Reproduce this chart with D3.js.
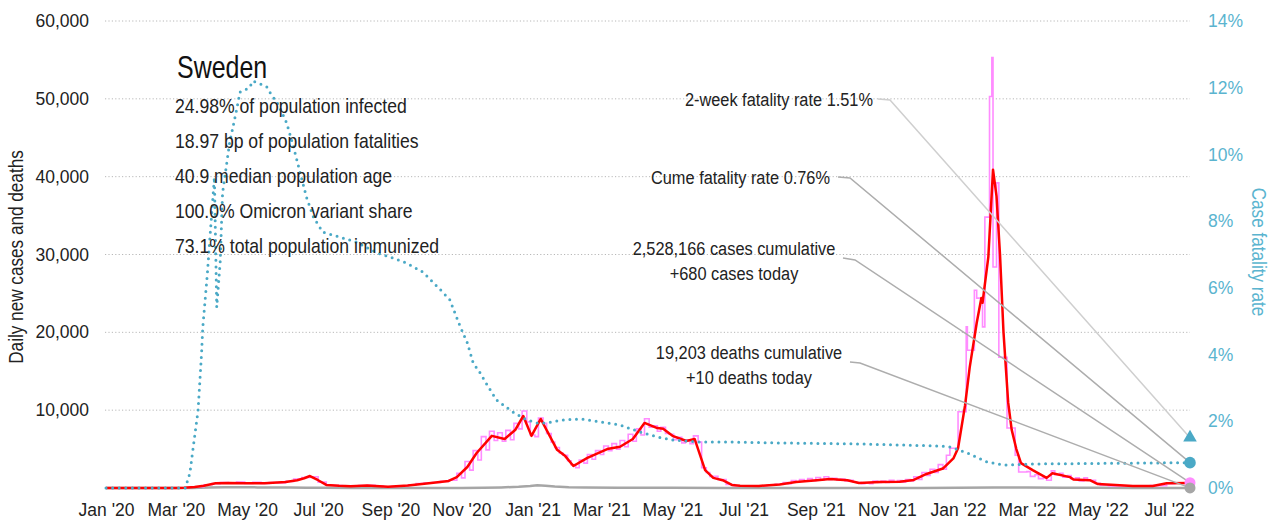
<!DOCTYPE html>
<html>
<head>
<meta charset="utf-8">
<script src="https://cdn.jsdelivr.net/npm/d3@7/dist/d3.min.js"></script>
<style>
  body { margin: 0; background: #fff; }
  svg { display: block; }
  text { font-family: "Liberation Sans", Arial, sans-serif; }
</style>
</head>
<body>
<svg id="chart" width="1278" height="527"></svg>
<script>
// ---- Data: Sweden, Jan 2020 – Jul 2022 ----
const startDate = "2020-01-01";
const endDate = "2022-07-19";

const caseTicks = [10000, 20000, 30000, 40000, 50000, 60000];
const cfrTicks = [0, 2, 4, 6, 8, 10, 12, 14];

// 7-day average of new cases
const avgCases = [
  ["2020-01-01", 0], ["2020-03-01", 5], ["2020-03-08", 40], ["2020-03-17", 120],
  ["2020-03-25", 300], ["2020-04-04", 600], ["2020-04-15", 650], ["2020-04-29", 620],
  ["2020-05-16", 600], ["2020-06-03", 780], ["2020-06-13", 1000], ["2020-06-19", 1250],
  ["2020-06-24", 1540], ["2020-07-01", 1000], ["2020-07-08", 400], ["2020-07-19", 280],
  ["2020-07-29", 220], ["2020-08-12", 330], ["2020-08-30", 160], ["2020-09-16", 330],
  ["2020-10-04", 620], ["2020-10-21", 900], ["2020-10-28", 1400], ["2020-11-06", 2700],
  ["2020-11-14", 4500], ["2020-11-27", 6700], ["2020-12-08", 6300], ["2020-12-17", 7450],
  ["2020-12-24", 9250], ["2020-12-31", 6700], ["2021-01-08", 8870], ["2021-01-22", 4900],
  ["2021-01-29", 4100], ["2021-02-05", 2830], ["2021-02-17", 3860], ["2021-03-06", 5000],
  ["2021-03-17", 5300], ["2021-03-28", 6300], ["2021-04-07", 8360], ["2021-04-18", 7700],
  ["2021-04-23", 7600], ["2021-05-01", 6700], ["2021-05-13", 6040], ["2021-05-20", 6300],
  ["2021-05-29", 2300], ["2021-06-05", 1300], ["2021-06-13", 1000], ["2021-06-21", 400],
  ["2021-06-28", 300], ["2021-07-14", 260], ["2021-08-01", 450], ["2021-08-15", 770],
  ["2021-09-02", 1000], ["2021-09-13", 1150], ["2021-09-28", 1000], ["2021-10-08", 640],
  ["2021-10-26", 770], ["2021-11-12", 800], ["2021-11-24", 1030], ["2021-12-05", 1800],
  ["2021-12-19", 2500], ["2021-12-28", 3800], ["2022-01-01", 5100], ["2022-01-07", 10600],
  ["2022-01-11", 15500], ["2022-01-17", 21200], ["2022-01-21", 24400], ["2022-01-22", 23800],
  ["2022-01-27", 29700], ["2022-01-31", 40900], ["2022-02-03", 37500], ["2022-02-06", 30000],
  ["2022-02-09", 20000], ["2022-02-13", 11000], ["2022-02-16", 7500], ["2022-02-20", 5000],
  ["2022-02-24", 3200], ["2022-03-06", 2300], ["2022-03-18", 1300],
  ["2022-03-23", 1900], ["2022-04-07", 1400], ["2022-04-10", 1100], ["2022-04-24", 1000],
  ["2022-05-01", 500], ["2022-05-31", 250], ["2022-06-17", 250], ["2022-06-29", 600],
  ["2022-07-19", 650]
];

// reported daily new cases
const dailyCases = [
  ["2020-01-01", 0], ["2020-03-04", 20], ["2020-03-11", 90], ["2020-03-18", 160],
  ["2020-03-25", 420], ["2020-04-01", 560], ["2020-04-08", 700], ["2020-04-15", 620],
  ["2020-04-22", 760], ["2020-04-29", 600], ["2020-05-06", 720], ["2020-05-13", 580],
  ["2020-05-20", 700], ["2020-05-27", 660], ["2020-06-03", 850], ["2020-06-10", 1150],
  ["2020-06-17", 1350], ["2020-06-24", 1450], ["2020-07-01", 750], ["2020-07-08", 350],
  ["2020-07-15", 300], ["2020-07-22", 250], ["2020-07-29", 230], ["2020-08-05", 300],
  ["2020-08-12", 340], ["2020-08-19", 250], ["2020-08-26", 170], ["2020-09-02", 200],
  ["2020-09-09", 260], ["2020-09-16", 380], ["2020-09-23", 560], ["2020-09-30", 680],
  ["2020-10-07", 700], ["2020-10-14", 850], ["2020-10-21", 1000],
  ["2020-10-28", 1900], ["2020-11-01", 1300], ["2020-11-04", 3400], ["2020-11-08", 2300],
  ["2020-11-11", 4800], ["2020-11-15", 3600], ["2020-11-18", 6600], ["2020-11-22", 4900],
  ["2020-11-25", 7300], ["2020-11-29", 6100], ["2020-12-02", 7100], ["2020-12-06", 6000],
  ["2020-12-09", 7400], ["2020-12-13", 6200], ["2020-12-16", 8300], ["2020-12-20", 7600],
  ["2020-12-23", 9900], ["2020-12-27", 8500], ["2020-12-30", 6800], ["2021-01-03", 6600],
  ["2021-01-06", 9000], ["2021-01-10", 8300], ["2021-01-13", 7000], ["2021-01-17", 5900],
  ["2021-01-20", 5200], ["2021-01-24", 4500], ["2021-01-27", 4200], ["2021-01-31", 3500],
  ["2021-02-03", 3000], ["2021-02-07", 2600], ["2021-02-10", 3600], ["2021-02-14", 3200],
  ["2021-02-17", 4300], ["2021-02-21", 3700], ["2021-02-24", 4800], ["2021-02-28", 4300],
  ["2021-03-03", 5400], ["2021-03-07", 4800], ["2021-03-10", 5700], ["2021-03-14", 5000],
  ["2021-03-17", 6100], ["2021-03-21", 5300], ["2021-03-24", 6900], ["2021-03-28", 6000],
  ["2021-03-31", 7600], ["2021-04-04", 6800], ["2021-04-07", 8900], ["2021-04-11", 7800],
  ["2021-04-14", 8000], ["2021-04-18", 7300], ["2021-04-21", 7800], ["2021-04-25", 7000],
  ["2021-04-28", 6900], ["2021-05-02", 6200], ["2021-05-05", 6500], ["2021-05-09", 5800],
  ["2021-05-12", 6200], ["2021-05-16", 5700], ["2021-05-19", 6700], ["2021-05-23", 5900],
  ["2021-05-26", 2600], ["2021-05-30", 2000], ["2021-06-02", 1500], ["2021-06-09", 1100],
  ["2021-06-16", 450], ["2021-06-23", 280], ["2021-06-30", 240], ["2021-07-07", 230],
  ["2021-07-14", 280], ["2021-07-21", 350], ["2021-07-28", 480],
  ["2021-08-04", 700], ["2021-08-08", 550], ["2021-08-11", 950], ["2021-08-15", 750],
  ["2021-08-18", 1100], ["2021-08-22", 900], ["2021-08-25", 1200], ["2021-08-29", 950],
  ["2021-09-01", 1350], ["2021-09-05", 1000], ["2021-09-08", 1450], ["2021-09-12", 1100],
  ["2021-09-15", 1250], ["2021-09-19", 1000], ["2021-09-22", 1150], ["2021-09-26", 900],
  ["2021-09-29", 1000], ["2021-10-03", 750], ["2021-10-06", 700], ["2021-10-10", 560],
  ["2021-10-13", 650], ["2021-10-17", 550], ["2021-10-20", 900], ["2021-10-24", 700],
  ["2021-10-27", 900], ["2021-10-31", 720], ["2021-11-03", 1000], ["2021-11-07", 750],
  ["2021-11-10", 950], ["2021-11-14", 750], ["2021-11-17", 1100], ["2021-11-21", 900],
  ["2021-11-24", 1450], ["2021-11-28", 1100], ["2021-12-01", 2000], ["2021-12-05", 1600],
  ["2021-12-08", 2400], ["2021-12-12", 2000], ["2021-12-15", 3000], ["2021-12-19", 2400],
  ["2021-12-22", 4200], ["2021-12-25", 5100], ["2022-01-01", 9800], ["2022-01-08", 20700],
  ["2022-01-09", 17700], ["2022-01-15", 25400], ["2022-01-17", 24400], ["2022-01-22", 20700],
  ["2022-01-24", 34800], ["2022-01-28", 50300], ["2022-01-30", 55300], ["2022-01-31", 28400],
  ["2022-02-03", 39200], ["2022-02-05", 16800], ["2022-02-12", 7700], ["2022-02-19", 4200],
  ["2022-02-22", 2050], ["2022-03-01", 2100], ["2022-03-04", 1500], ["2022-03-08", 1700],
  ["2022-03-11", 1200], ["2022-03-15", 1300], ["2022-03-18", 1000], ["2022-03-22", 2200],
  ["2022-03-25", 1700], ["2022-03-29", 1900], ["2022-04-01", 1400], ["2022-04-05", 1600],
  ["2022-04-08", 1200], ["2022-04-12", 1300], ["2022-04-15", 900], ["2022-04-19", 1300],
  ["2022-04-22", 1000], ["2022-04-26", 1000], ["2022-04-29", 600], ["2022-05-03", 350],
  ["2022-05-10", 250], ["2022-06-01", 240], ["2022-06-15", 300], ["2022-06-29", 550],
  ["2022-07-06", 650], ["2022-07-13", 680], ["2022-07-19", 680]
];

// daily new deaths
const dailyDeaths = [
  ["2020-01-01", 0], ["2020-03-15", 10], ["2020-03-29", 60], ["2020-04-12", 100],
  ["2020-04-26", 90], ["2020-05-10", 80], ["2020-05-24", 60], ["2020-06-07", 50],
  ["2020-06-21", 40], ["2020-07-05", 20], ["2020-08-01", 5], ["2020-10-01", 3],
  ["2020-11-01", 10], ["2020-11-20", 40], ["2020-12-05", 80], ["2020-12-20", 150],
  ["2020-12-30", 250], ["2021-01-05", 350], ["2021-01-12", 300], ["2021-01-20", 200],
  ["2021-02-01", 100], ["2021-02-15", 60], ["2021-03-15", 30], ["2021-05-01", 25],
  ["2021-06-15", 10], ["2021-08-01", 3], ["2021-10-01", 5], ["2021-12-01", 10],
  ["2022-01-01", 20], ["2022-02-01", 50], ["2022-02-15", 70], ["2022-03-01", 60],
  ["2022-04-01", 40], ["2022-05-01", 20], ["2022-06-01", 10], ["2022-07-19", 10]
];

// cumulative case fatality rate, percent
const caseFatality = [
  ["2020-01-01", 0], ["2020-03-09", 0], ["2020-03-13", 0.45], ["2020-03-15", 1.0],
  ["2020-03-20", 2.33], ["2020-03-23", 4.05], ["2020-03-24", 4.8], ["2020-03-28", 6.44],
  ["2020-03-30", 7.43], ["2020-04-02", 8.84], ["2020-04-03", 9.32], ["2020-04-05", 5.42],
  ["2020-04-08", 6.8], ["2020-04-10", 8.84], ["2020-04-16", 10.34], ["2020-04-22", 11.33],
  ["2020-04-25", 11.87], ["2020-04-30", 11.95], ["2020-05-03", 11.99], ["2020-05-06", 12.2],
  ["2020-05-10", 12.14], ["2020-05-15", 12.08], ["2020-05-18", 12.02], ["2020-05-21", 11.84],
  ["2020-05-27", 11.54], ["2020-05-30", 11.33], ["2020-06-04", 10.94], ["2020-06-09", 10.34],
  ["2020-06-15", 9.53], ["2020-06-21", 8.72], ["2020-06-27", 8.12], ["2020-07-05", 7.67],
  ["2020-07-17", 7.55], ["2020-08-03", 7.37], ["2020-08-21", 7.04], ["2020-09-01", 6.92],
  ["2020-09-15", 6.74], ["2020-09-29", 6.47], ["2020-10-14", 5.94], ["2020-10-22", 5.64],
  ["2020-10-31", 4.83], ["2020-11-06", 4.35], ["2020-11-11", 3.75], ["2020-11-17", 3.45],
  ["2020-11-23", 3.09], ["2020-12-01", 2.64], ["2020-12-15", 2.28], ["2020-12-27", 2.04],
  ["2021-01-05", 1.95], ["2021-01-13", 1.95], ["2021-01-27", 2.04], ["2021-02-11", 2.07],
  ["2021-02-25", 2.0], ["2021-03-17", 1.89], ["2021-04-03", 1.68], ["2021-04-18", 1.53],
  ["2021-05-01", 1.44], ["2021-05-22", 1.38], ["2021-06-19", 1.38], ["2021-08-01", 1.35],
  ["2021-10-09", 1.32], ["2021-12-16", 1.26], ["2021-12-25", 1.23], ["2022-01-09", 1.05],
  ["2022-01-26", 0.78], ["2022-02-09", 0.69], ["2022-03-04", 0.72], ["2022-07-19", 0.76]
];

const country = "Sweden";
const factLines = [
  "24.98% of population infected",
  "18.97 bp of population fatalities",
  "40.9 median population age",
  "100.0% Omicron variant share",
  "73.1% total population immunized"
];

const latestCfr2wk = 1.51;
const latestCfr = 0.76;
const latestCases = 680;
const latestDeaths = 10;
const cumCases = 2528166;
const cumDeaths = 19203;

// ---- Scales ----
const parse = d3.timeParse("%Y-%m-%d");
const svg = d3.select("#chart");

const x = d3.scaleTime().domain([parse(startDate), parse(endDate)]).range([106, 1190]);
const y = d3.scaleLinear().domain([0, 60000]).range([488, 21]);
const yR = d3.scaleLinear().domain([0, 14]).range([488, 21]);

const teal = "#4aa9c6";
const tealText = "#5ab4cf";
const pink = "#ff8cff";
const NARROW = 0.88;   // horizontal squeeze for the condensed text look

// places a text with a condensed horizontal scale
function narrowText(parent, px, py, str, size, opts = {}) {
  const rot = opts.rotate ? ` rotate(${opts.rotate})` : "";
  return parent.append("text")
    .attr("transform", `translate(${px},${py})${rot} scale(${opts.sx || NARROW},1)`)
    .attr("text-anchor", opts.anchor || "start")
    .attr("font-size", size)
    .attr("fill", opts.fill || "#222")
    .text(str);
}

// ---- Grid ----
svg.append("g")
  .selectAll("line")
  .data(caseTicks)
  .join("line")
  .attr("x1", 105).attr("x2", x.range()[1])
  .attr("y1", d => y(d)).attr("y2", d => y(d))
  .attr("stroke", "#b8b8b8").attr("stroke-width", 1)
  .attr("stroke-dasharray", "1.2,2.2");

// ---- Axes ----
const leftAxis = svg.append("g")
  .attr("transform", "translate(96,0)")
  .call(d3.axisLeft(y).tickValues(caseTicks).tickFormat(d3.format(",")).tickSize(0).tickPadding(7));
leftAxis.select(".domain").remove();
leftAxis.selectAll("text").attr("font-size", 17.5).attr("fill", "#222");

const rightAxis = svg.append("g")
  .attr("transform", "translate(1200,0)")
  .call(d3.axisRight(yR).tickValues(cfrTicks).tickFormat(d => d + "%").tickSize(0).tickPadding(8));
rightAxis.select(".domain").remove();
rightAxis.selectAll("text").attr("font-size", 17.5).attr("fill", tealText);

const monthTicks = d3.timeMonth.every(2).range(parse("2020-01-01"), parse("2022-07-02"));
const bottomAxis = svg.append("g")
  .attr("transform", "translate(0,490)")
  .call(d3.axisBottom(x).tickValues(monthTicks).tickFormat(d3.timeFormat("%b '%y")).tickSize(0).tickPadding(14));
bottomAxis.select(".domain").remove();
bottomAxis.selectAll("text").attr("font-size", 17.5).attr("fill", "#222");

narrowText(svg, 23, 257, "Daily new cases and deaths", 19.5, { rotate: -90, anchor: "middle" });
narrowText(svg, 1252, 252, "Case fatality rate", 19.5, { rotate: 90, anchor: "middle", fill: tealText });

// ---- Series ----
const pts = arr => arr.map(([d, v]) => [parse(d), v]);

const lineCases = d3.line().x(d => x(d[0])).y(d => y(d[1]));
const lineStep = d3.line().x(d => x(d[0])).y(d => y(d[1])).curve(d3.curveStepAfter);
const lineCfr = d3.line().x(d => x(d[0])).y(d => yR(d[1]));

svg.append("path")
  .attr("d", lineCases(pts(dailyDeaths)))
  .attr("fill", "none").attr("stroke", "#a6a6a6").attr("stroke-width", 2.5);

svg.append("path")
  .attr("d", lineStep(pts(dailyCases)))
  .attr("fill", "none").attr("stroke", pink).attr("stroke-width", 1.6);

svg.append("path")
  .attr("d", lineCases(pts(avgCases)))
  .attr("fill", "none").attr("stroke", "#ff0000").attr("stroke-width", 2.5)
  .attr("stroke-linejoin", "round");

svg.append("path")
  .attr("d", lineCfr(pts(caseFatality)))
  .attr("fill", "none").attr("stroke", teal).attr("stroke-width", 3)
  .attr("stroke-linecap", "round").attr("stroke-dasharray", "0,6.6");

// ---- Country facts ----
narrowText(svg, 177, 78, country, 32, { sx: 0.78, fill: "#111" });
factLines.forEach((t, i) => narrowText(svg, 175, 113 + i * 35, t, 20));

// ---- Latest-value callouts ----
const xEnd = x(parse(endDate));
const fmt = d3.format(",");
const callouts = [
  { lines: [`2-week fatality rate ${latestCfr2wk}%`], anchor: "end", tx: 873, ty: 106,
    from: [878, 99], bend: [890, 100], to: yR(latestCfr2wk), color: "#cfcfcf" },
  { lines: [`Cume fatality rate ${latestCfr}%`], anchor: "end", tx: 830, ty: 184,
    from: [838, 177], bend: [850, 178], to: yR(latestCfr), color: "#adadad" },
  { lines: [`${fmt(cumCases)} cases cumulative`, `+${fmt(latestCases)} cases today`], anchor: "middle", tx: 734, ty: 255,
    from: [843, 258], bend: [855, 260], to: y(latestCases), color: "#adadad" },
  { lines: [`${fmt(cumDeaths)} deaths cumulative`, `+${fmt(latestDeaths)} deaths today`], anchor: "middle", tx: 749, ty: 359,
    from: [850, 362], bend: [860, 363], to: y(latestDeaths), color: "#adadad" }
];

callouts.forEach(c => {
  svg.append("path")
    .attr("d", d3.line()([c.from, c.bend, [xEnd, c.to]]))
    .attr("fill", "none").attr("stroke", c.color).attr("stroke-width", 1.5);
  c.lines.forEach((t, i) => narrowText(svg, c.tx, c.ty + i * 25, t, 18.6, { anchor: c.anchor }));
});

// ---- End markers ----
svg.append("path")
  .attr("d", d3.symbol(d3.symbolTriangle, 80)())
  .attr("transform", `translate(${xEnd},${yR(latestCfr2wk)})`)
  .attr("fill", teal);
svg.append("circle").attr("cx", xEnd).attr("cy", yR(latestCfr)).attr("r", 5.8).attr("fill", teal);
svg.append("circle").attr("cx", xEnd).attr("cy", y(latestCases)).attr("r", 5.5).attr("fill", pink);
svg.append("circle").attr("cx", xEnd).attr("cy", y(latestDeaths)).attr("r", 5.5).attr("fill", "#a6a6a6");
</script>
</body>
</html>
